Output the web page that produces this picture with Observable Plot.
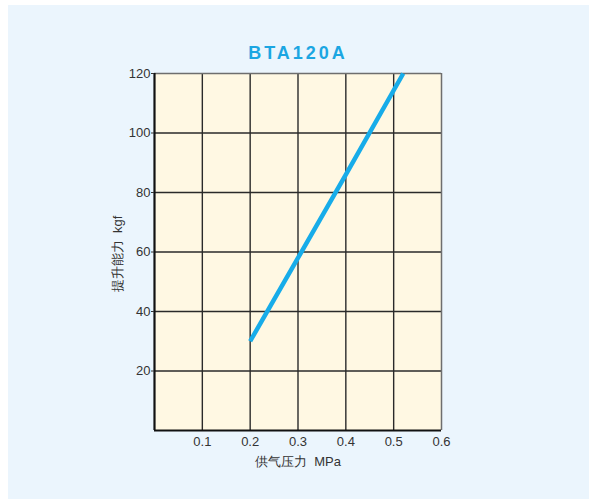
<!DOCTYPE html>
<html>
<head>
<meta charset="utf-8">
<script src="https://cdn.jsdelivr.net/npm/d3@7"></script>
<script src="https://cdn.jsdelivr.net/npm/@observablehq/plot@0.6"></script>
<style>
  html, body { margin: 0; padding: 0; background: #ffffff; }
  #wrap { position: relative; width: 601px; height: 502px; overflow: hidden; }
  #panel { position: absolute; left: 8px; top: 5px; width: 581px; height: 494px; background: #ebf5fd; }
  #chart { position: absolute; left: 0; top: 0; }
  #chart svg { background: transparent !important; }
</style>
</head>
<body>
<div id="wrap"><div id="panel"></div><div id="chart"></div></div>
<script>
const title = "BTA120A";
const xLabel = "供气压力\u00a0\u00a0MPa";
const yLabel = "提升能力\u00a0\u00a0kgf";
const xTicks = [0.1, 0.2, 0.3, 0.4, 0.5, 0.6];
const yTicks = [20, 40, 60, 80, 100, 120];
const pressure = [0.2, 0.3, 0.4, 0.52];
const force = [30, 58, 86, 120];

const data = pressure.map((p, i) => ({p, f: force[i]}));
const font = "'Liberation Sans', Arial, Helvetica, sans-serif";

const chart = Plot.plot({
  width: 601,
  height: 502,
  marginLeft: 154,
  marginRight: 160,
  marginTop: 73,
  marginBottom: 72,
  style: {fontFamily: font, fontSize: "12px", color: "#333", background: "transparent"},
  x: {domain: [0, 0.6]},
  y: {domain: [0, 120]},
  marks: [
    Plot.frame({fill: "#fff8e3", stroke: "none"}),
    Plot.gridX(xTicks.filter(d => d < 0.6), {stroke: "#2a2a2a", strokeOpacity: 1, strokeWidth: 1.4}),
    Plot.gridY(yTicks.filter(d => d < 120), {stroke: "#2a2a2a", strokeOpacity: 1, strokeWidth: 1.4}),
    Plot.ruleY([120], {stroke: "#6e6e6e", strokeWidth: 1.5}),
    Plot.ruleX([0.6], {stroke: "#6e6e6e", strokeWidth: 1.5}),
    Plot.ruleX([0], {stroke: "#111", strokeWidth: 2.2}),
    Plot.ruleY([0], {stroke: "#111", strokeWidth: 2.2}),
    Plot.line(data, {x: "p", y: "f", stroke: "#17ace9", strokeWidth: 4.5, strokeLinecap: "butt"}),
    Plot.axisX({ticks: xTicks, tickSize: 0, tickPadding: 6, fontSize: 13, tickFormat: d => String(d), label: null}),
    Plot.axisY({ticks: yTicks, tickSize: 3, tickPadding: 1, fontSize: 13, label: null}),
    Plot.text([xLabel], {frameAnchor: "bottom", dy: 35, fontSize: 13, fill: "#333", text: d => d}),
    Plot.text([yLabel], {frameAnchor: "left", dx: -37, dy: 2, rotate: -90, textAnchor: "middle", fontSize: 13, fill: "#333", text: d => d}),
    Plot.text([title], {frameAnchor: "top", dy: -27, fontSize: 18, fontWeight: "bold", fill: "#1ba6e2", text: d => d})
  ]
});
document.getElementById("chart").appendChild(chart);
d3.select(chart).selectAll("text").filter(function() { return this.textContent === title; })
  .attr("letter-spacing", "3px");
</script>
</body>
</html>
